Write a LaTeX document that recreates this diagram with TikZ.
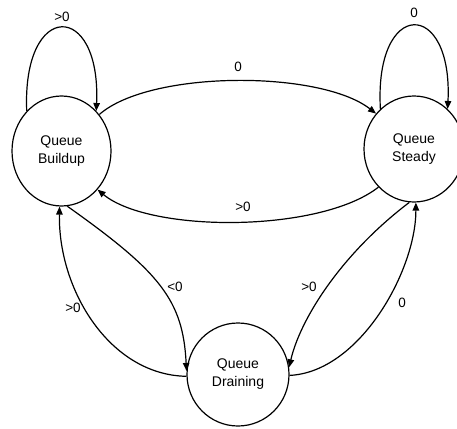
\documentclass[tikz,border=0pt]{standalone}
\usepackage{fontspec}
\setmainfont{Liberation Sans}
\usetikzlibrary{arrows.meta,shapes.geometric}
\begin{document}
\begin{tikzpicture}[x=1pt,y=-1pt,
  state/.style={draw,ellipse,line width=1.2pt,inner sep=0pt,align=center,
    font=\fontsize{14}{18}\selectfont},
  lbl/.style={inner sep=0pt,font=\fontsize{13.5}{16}\selectfont},
  edge/.style={line width=1.2pt,-{Stealth[length=8pt,width=6.5pt,inset=0pt]}}]
\useasboundingbox (0,0) rectangle (457,428);
\clip (0,0) rectangle (457,428);
\node[state,minimum width=99pt,minimum height=110pt] (b) at (61.5,151) {Queue\\Buildup};
\node[state,minimum width=100pt,minimum height=106pt] (s) at (414,149) {Queue\\Steady};
\node[state,minimum width=102pt,minimum height=103pt] (d) at (238,374.5) {Queue\\Draining};
% loops
\draw[edge] (b.131) .. controls (22,0) and (101,0) .. (b.49);
\draw[edge] (s.130) .. controls (374,-2) and (453,-2) .. (s.50);
% top and bottom arcs
\draw[edge] (b.44) .. controls (150,70) and (320,70) .. (s.137);
\draw[edge] (s.-133) .. controls (320,233) and (150,233) .. (b.-47);
% buildup <-> draining
\draw[edge] (b.-84) .. controls (160,272) and (183,300) .. (d.176);
\draw[edge] (d.182) .. controls (110,375) and (58,290) .. (b.-92);
% steady <-> draining
\draw[edge] (s.-95) .. controls (340,255) and (300,320) .. (d.8);
\draw[edge] (d.-1) .. controls (360,372) and (416,270) .. (s.-88);
% labels
\node[lbl] (l1) at (62,17) {>0};
\node[lbl] (l2) at (414,13) {0};
\node[lbl] (l3) at (238,67) {0};
\node[lbl] (l4) at (243,207) {>0};
\node[lbl] (l5) at (175,287) {<0};
\node[lbl] (l6) at (73,308) {>0};
\node[lbl] (l7) at (309,287) {>0};
\node[lbl] (l8) at (402,303) {0};
\end{tikzpicture}
\end{document}
